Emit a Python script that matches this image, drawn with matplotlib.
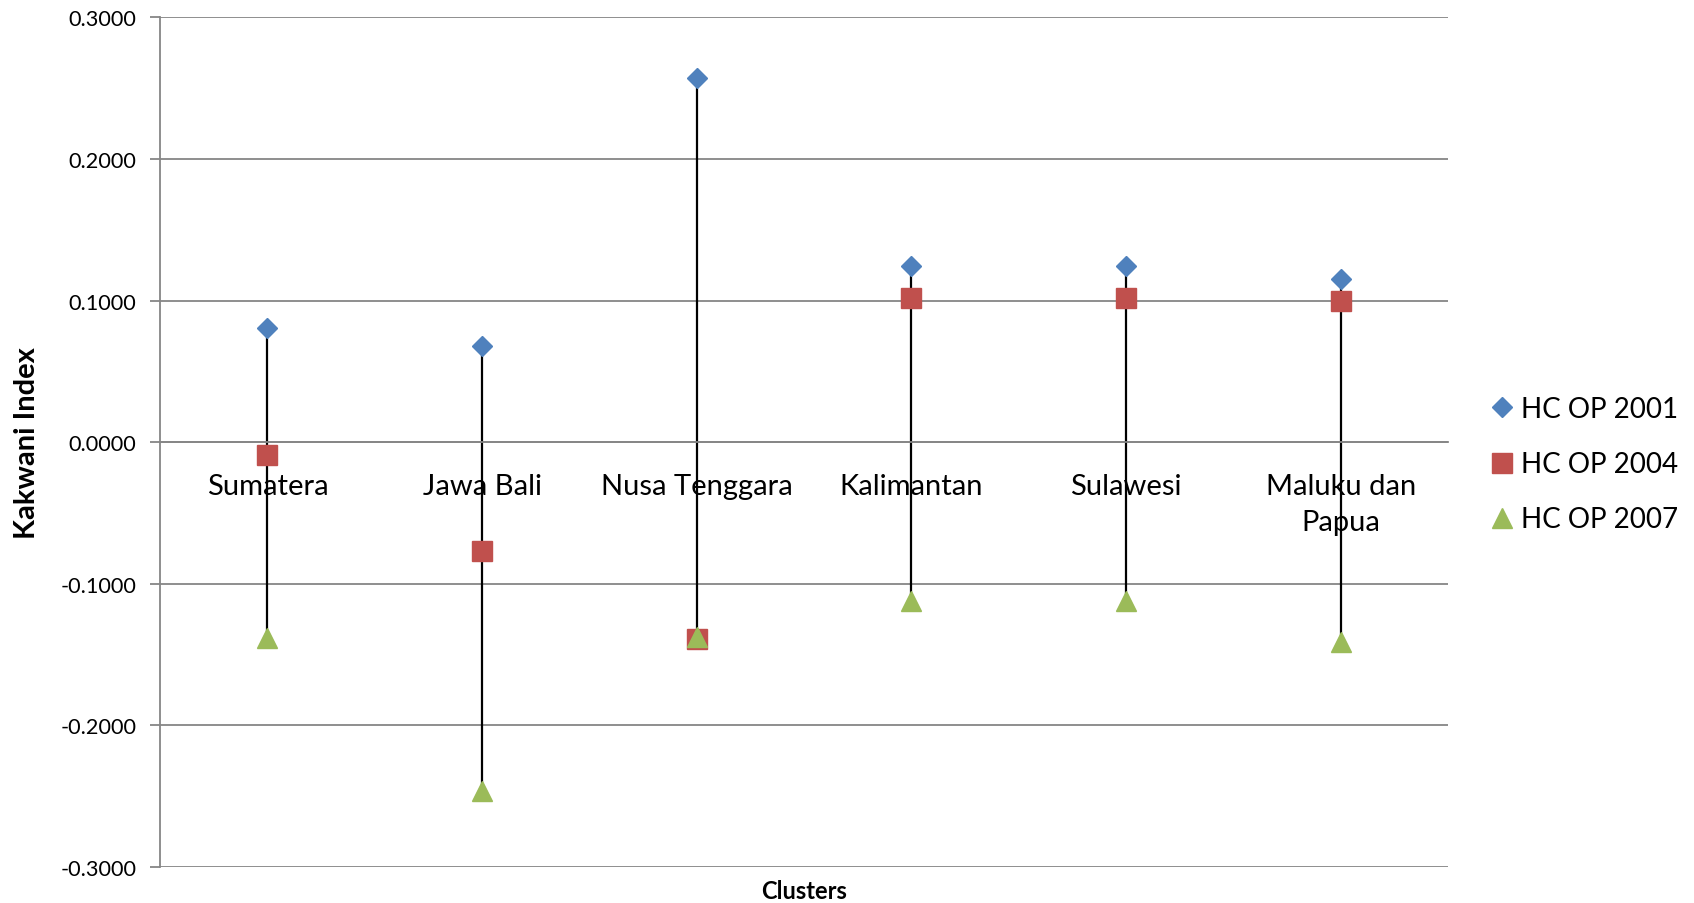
import matplotlib
matplotlib.use("Agg")
import matplotlib.pyplot as plt
from matplotlib.ticker import FormatStrFormatter

plt.rcParams['font.family'] = ['Lato', 'DejaVu Sans']
plt.rcParams['axes.unicode_minus'] = False

# Donnees
clusters = ["Sumatera", "Jawa Bali", "Nusa Tenggara", "Kalimantan", "Sulawesi", "Maluku dan\nPapua"]
hc2001 = [0.0808, 0.0679, 0.2570, 0.1247, 0.1247, 0.1155]
hc2004 = [-0.0091, -0.0770, -0.1390, 0.1020, 0.1020, 0.0999]
hc2007 = [-0.1380, -0.2460, -0.1376, -0.1120, -0.1120, -0.1410]
series = ["HC OP 2001", "HC OP 2004", "HC OP 2007"]

x = list(range(len(clusters)))
hauts = [max(a, b, c) for a, b, c in zip(hc2001, hc2004, hc2007)]
bas = [min(a, b, c) for a, b, c in zip(hc2001, hc2004, hc2007)]

fig = plt.figure(figsize=(16.94, 9.04), dpi=100)
ax = fig.add_axes([0.0945, 0.0398, 0.7603, 0.9398])

grid_col = "#868686"

# axe horizontal a 0 (a faire avant les ticks, set_position les remet a zero)
for s in ["top", "right"]:
    ax.spines[s].set_visible(False)
ax.spines["left"].set_color(grid_col)
ax.spines["left"].set_linewidth(1.3)
ax.spines["bottom"].set_position(('data', 0))
ax.spines["bottom"].set_color(grid_col)
ax.spines["bottom"].set_linewidth(1.3)

ax.vlines(x, bas, hauts, color="black", lw=1.6, zorder=2)
ax.plot(x, hc2001, ls="none", marker="D", ms=10.5, color="#4F81BD", label=series[0], zorder=3)
ax.plot(x, hc2004, ls="none", marker="s", ms=15, color="#C0504D", label=series[1], zorder=3)
ax.plot(x, hc2007, ls="none", marker="^", ms=15, color="#9BBB59", label=series[2], zorder=4)

ax.set_xlim(-0.5, len(clusters) - 0.5)
ax.set_ylim(-0.3, 0.3)
ax.set_yticks([-0.3, -0.2, -0.1, 0.0, 0.1, 0.2, 0.3])
ax.yaxis.set_major_formatter(FormatStrFormatter('%.4f'))
ax.yaxis.grid(True, color=grid_col, lw=1.3)
ax.set_axisbelow(True)

ax.set_xticks(x)
ax.set_xticklabels(clusters, fontsize=21, linespacing=1.5)
ax.tick_params(axis='x', length=0, pad=22)
ax.tick_params(axis='y', length=7, width=1.3, color=grid_col, labelsize=15.6, pad=10)

ax.set_ylabel("Kakwani Index", fontsize=21, fontweight="bold")
ax.yaxis.set_label_coords(-0.093, 0.5)
ax.set_xlabel("Clusters", fontsize=17, fontweight="bold")
ax.xaxis.set_label_coords(0.5, -0.014)

ax.legend(loc="center left", bbox_to_anchor=(1.01, 0.474), frameon=False, fontsize=20,
          handletextpad=0.1, labelspacing=1.05, handlelength=1.15)

fig.savefig("out.png", dpi=100)
